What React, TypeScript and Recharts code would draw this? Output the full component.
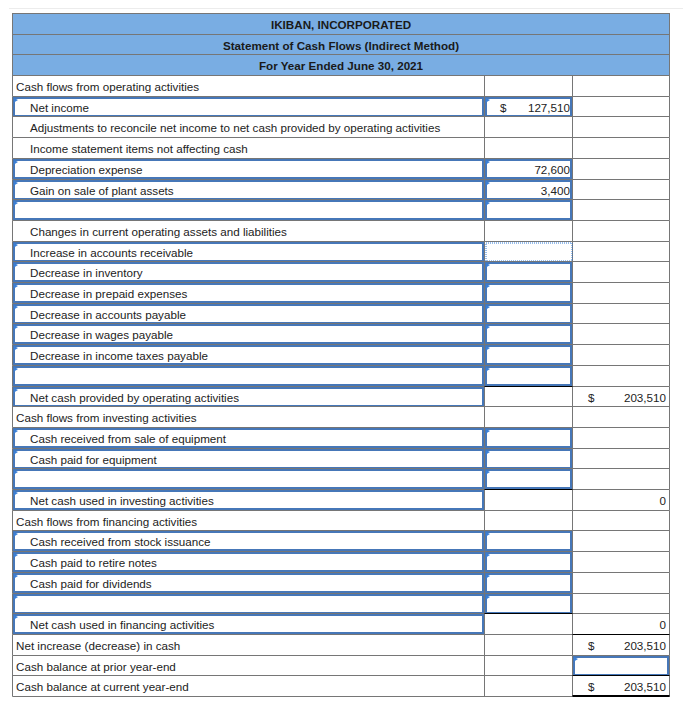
import React from "react";
import { BarChart, Bar, XAxis, YAxis } from "recharts";

const headerLines = [
  "IKIBAN, INCORPORATED",
  "Statement of Cash Flows (Indirect Method)",
  "For Year Ended June 30, 2021",
];

const rowLabels = [
  "Cash flows from operating activities",
  "Net income",
  "Adjustments to reconcile net income to net cash provided by operating activities",
  "Income statement items not affecting cash",
  "Depreciation expense",
  "Gain on sale of plant assets",
  "",
  "Changes in current operating assets and liabilities",
  "Increase in accounts receivable",
  "Decrease in inventory",
  "Decrease in prepaid expenses",
  "Decrease in accounts payable",
  "Decrease in wages payable",
  "Decrease in income taxes payable",
  "",
  "Net cash provided by operating activities",
  "Cash flows from investing activities",
  "Cash received from sale of equipment",
  "Cash paid for equipment",
  "",
  "Net cash used in investing activities",
  "Cash flows from financing activities",
  "Cash received from stock issuance",
  "Cash paid to retire notes",
  "Cash paid for dividends",
  "",
  "Net cash used in financing activities",
  "Net increase (decrease) in cash",
  "Cash balance at prior year-end",
  "Cash balance at current year-end",
];

const rowIndented = [
  false, true, true, true, true, true, true, true, true, true,
  true, true, true, true, true, true, false, true, true, true,
  true, false, true, true, true, true, true, false, false, false,
];

const midValues: (number | null)[] = [
  null, 127510, null, null, 72600, 3400, null, null, null, null,
  null, null, null, null, null, null, null, null, null, null,
  null, null, null, null, null, null, null, null, null, null,
];
const midDollar = [1];

const totalValues: (number | null)[] = [
  null, null, null, null, null, null, null, null, null, null,
  null, null, null, null, null, 203510, null, null, null, null,
  0, null, null, null, null, null, 0, 203510, null, 203510,
];
const totalDollar = [15, 27, 29];

// cell styling (row indices into the body rows)
const labelInputRows = [1, 4, 5, 6, 8, 9, 10, 11, 12, 13, 14, 15, 17, 18, 19, 20, 22, 23, 24, 25, 26];
const midInputRows = [1, 4, 5, 6, 9, 10, 11, 12, 13, 14, 17, 18, 19, 22, 23, 24, 25];
const midFocusRows = [8];
const midTopRuleRows = [15, 20, 26];
const totalInputRows = [28];
const totalTopRuleRows = [27, 29];
const totalBottomRuleRows = [29];

const data = [
  ...headerLines.map((t, i) => ({ id: "h" + i, span: 1, kind: "header", text: t })),
  ...rowLabels.map((t, i) => ({ id: "r" + i, span: 1, kind: "body", text: t, row: i })),
];

const GRID = "#767676";
const BLUE = "#4677b8";
const MARK = "#3a7fd6";
const TEXT = "#222222";
const FONT = "Arial, 'Liberation Sans', sans-serif";
const FS = 11.65;

const fmt = (v: number) => v.toLocaleString("en-US");

const InputBox = ({ x0, y0, x1, y1, dotted }: any) => (
  <g>
    <rect
      x={x0 + 1.5}
      y={y0 + 1.5}
      width={x1 - x0 - 3}
      height={y1 - y0 - 3}
      fill="none"
      stroke={dotted ? "#2f7bd8" : BLUE}
      strokeWidth={dotted ? 1 : 2}
      strokeDasharray={dotted ? "1 1" : undefined}
    />
    {!dotted && (
      <polygon
        points={`${x0 + 1.5},${y0 + 1.5} ${x0 + 5.5},${y0 + 3.5} ${x0 + 1.5},${y0 + 6}`}
        fill={MARK}
      />
    )}
  </g>
);

const RowShape = (props: any) => {
  const { x, y, width, height, payload, index } = props;
  const L = Math.round(x) - 0.5;
  const R = Math.round(x + width) - 0.5;
  const T = Math.round(y) + 0.5;
  const B = Math.round(y + height) + 0.5;
  const mid = (T + B) / 2;
  const isLast = index === data.length - 1;

  if (payload.kind === "header") {
    return (
      <g>
        {index === 0 && (
          <line x1={1} x2={682} y1={T - 5} y2={T - 5} stroke="#ececec" strokeWidth={1} />
        )}
        <rect x={L} y={T} width={R - L} height={B - T} fill="#79ade3" stroke={GRID} strokeWidth={1} />
        <text
          x={(L + R) / 2}
          y={mid + 4.5}
          textAnchor="middle"
          fontFamily={FONT}
          fontSize={FS}
          fontWeight="bold"
          fill="#1a1a1a"
        >
          {payload.text}
        </text>
      </g>
    );
  }

  const r = payload.row as number;
  const c1 = Math.round(x + width * 0.7184) - 0.5;
  const c2 = Math.round(x + width * 0.8524) - 0.5;
  const mv = midValues[r];
  const tv = totalValues[r];

  return (
    <g>
      <line x1={L} x2={R} y1={T} y2={T} stroke={GRID} />
      {isLast && <line x1={L} x2={R} y1={B} y2={B} stroke={GRID} />}
      <line x1={L} x2={L} y1={T} y2={B} stroke={GRID} />
      <line x1={c1} x2={c1} y1={T} y2={B} stroke={GRID} />
      <line x1={c2} x2={c2} y1={T} y2={B} stroke={GRID} />
      <line x1={R} x2={R} y1={T} y2={B} stroke={GRID} />

      {labelInputRows.includes(r) && <InputBox x0={L} y0={T} x1={c1} y1={B} />}
      {midInputRows.includes(r) && <InputBox x0={c1} y0={T} x1={c2} y1={B} />}
      {midFocusRows.includes(r) && <InputBox x0={c1} y0={T} x1={c2 + 1} y1={B} dotted />}
      {totalInputRows.includes(r) && <InputBox x0={c2} y0={T} x1={R} y1={B} />}
      {midTopRuleRows.includes(r) && <line x1={c1} x2={c2} y1={T} y2={T} stroke="#000" />}
      {totalTopRuleRows.includes(r) && <line x1={c2} x2={R} y1={T} y2={T} stroke="#000" />}
      {totalBottomRuleRows.includes(r) && (
        <line x1={c2} x2={R} y1={B - 0.5} y2={B - 0.5} stroke="#000" strokeWidth={2} />
      )}

      {payload.text && (
        <text
          x={L + (rowIndented[r] ? 17.5 : 3.5)}
          y={mid + 4.5}
          fontFamily={FONT}
          fontSize={FS}
          fill={TEXT}
        >
          {payload.text}
        </text>
      )}
      {mv !== null && (
        <g fontFamily={FONT} fontSize={FS} fill={TEXT}>
          {midDollar.includes(r) && (
            <text x={c1 + 15.5} y={mid + 4.5}>$</text>
          )}
          <text x={c2 - 2.5} y={mid + 4.5} textAnchor="end">
            {fmt(mv)}
          </text>
        </g>
      )}
      {tv !== null && (
        <g fontFamily={FONT} fontSize={FS} fill={TEXT}>
          {totalDollar.includes(r) && (
            <text x={c2 + 15.5} y={mid + 4.5}>$</text>
          )}
          <text x={R - 3.5} y={mid + 4.5} textAnchor="end">
            {fmt(tv)}
          </text>
        </g>
      )}
    </g>
  );
};

export default function App() {
  return (
    <BarChart
      width={675}
      height={695}
      data={data}
      layout="vertical"
      margin={{ top: 5, right: 13, bottom: 7, left: 5 }}
      barCategoryGap={0}
      barGap={0}
    >
      <XAxis type="number" domain={[0, 1]} hide />
      <YAxis type="category" dataKey="id" hide />
      <Bar dataKey="span" shape={RowShape} isAnimationActive={false} />
    </BarChart>
  );
}
